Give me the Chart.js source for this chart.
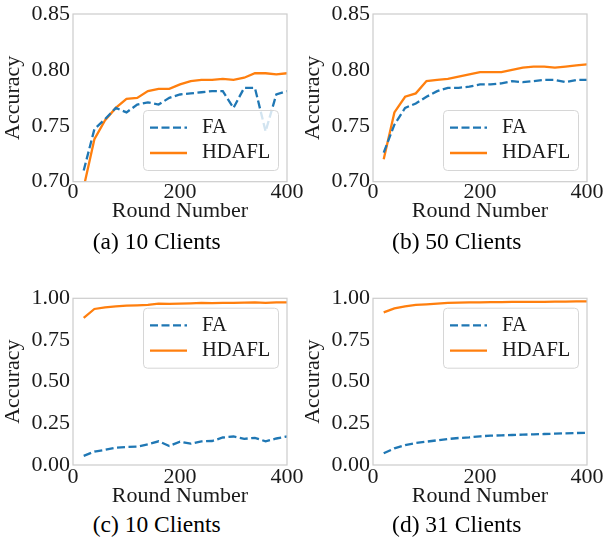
<!DOCTYPE html>
<html><head><meta charset="utf-8">
<script src="https://cdn.jsdelivr.net/npm/chart.js@4.4.1/dist/chart.umd.min.js"></script>
<style>
html,body{margin:0;padding:0;background:#fff;}
#wrap{position:relative;width:605px;height:541px;overflow:hidden;background:#fff;}
canvas{position:absolute;}
.cap{position:absolute;width:300px;text-align:center;font-family:"Liberation Serif",serif;font-size:23.5px;line-height:23.5px;color:#000;white-space:nowrap;}
</style></head><body>
<div id="wrap">
  <canvas id="cA" width="305" height="230" style="left:0;top:0"></canvas>
  <canvas id="cB" width="305" height="230" style="left:300px;top:0"></canvas>
  <canvas id="cC" width="305" height="240" style="left:0;top:270px"></canvas>
  <canvas id="cD" width="305" height="240" style="left:300px;top:270px"></canvas>
  <div class="cap" style="left:6.7px;top:229.6px">(a) 10 Clients</div>
  <div class="cap" style="left:306.7px;top:229.6px">(b) 50 Clients</div>
  <div class="cap" style="left:6.7px;top:513.4px">(c) 10 Clients</div>
  <div class="cap" style="left:306.7px;top:513.4px">(d) 31 Clients</div>
</div>
<script>
// ---- data ----
const rounds = [20,40,60,80,100,120,140,160,180,200,220,240,260,280,300,320,340,360,380,400];
const seriesNames = ['FA','HDAFL'];

const faA = [0.710,0.747,0.756,0.766,0.762,0.769,0.771,0.769,0.775,0.778,0.779,0.780,0.781,0.781,0.766,0.784,0.784,0.745,0.778,0.781];
const hdA = [0.695,0.738,0.755,0.766,0.774,0.775,0.781,0.783,0.783,0.787,0.790,0.791,0.791,0.792,0.791,0.793,0.797,0.797,0.796,0.797];

const faB = [0.726,0.751,0.766,0.770,0.776,0.781,0.784,0.784,0.785,0.787,0.787,0.788,0.790,0.789,0.790,0.791,0.791,0.789,0.791,0.791];
const hdB = [0.720,0.762,0.776,0.779,0.790,0.791,0.792,0.794,0.796,0.798,0.798,0.798,0.800,0.802,0.803,0.803,0.802,0.803,0.804,0.805];

const faC = [0.055,0.081,0.091,0.104,0.108,0.110,0.124,0.142,0.114,0.140,0.128,0.142,0.144,0.165,0.171,0.157,0.163,0.142,0.159,0.171];
const hdC = [0.882,0.936,0.946,0.952,0.956,0.958,0.960,0.968,0.967,0.968,0.970,0.972,0.971,0.973,0.972,0.974,0.975,0.972,0.976,0.976];

const faD = [0.070,0.100,0.120,0.132,0.140,0.148,0.156,0.162,0.166,0.172,0.176,0.178,0.180,0.182,0.184,0.186,0.188,0.190,0.192,0.193];
const hdD = [0.916,0.940,0.952,0.960,0.964,0.968,0.972,0.974,0.975,0.976,0.977,0.977,0.978,0.978,0.979,0.979,0.980,0.980,0.981,0.981];

const xTickValues = [0,200,400];
const yTicksTop = [0.70,0.75,0.80,0.85];
const yTicksBottom = [0.00,0.25,0.50,0.75,1.00];
const xTitle = 'Round Number';
const yTitle = 'Accuracy';

// ---- styling ----
const FONT = '"Liberation Serif", "Times New Roman", serif';
const TXT = '#1a1a1a';
const COLORS = ['#1f77b4','#ff7f0e'];

const framePlugin = {
  id:'frame',
  afterDatasetsDraw(chart, args, opts){
    const ctx = chart.ctx, a = chart.chartArea;
    ctx.save();
    ctx.strokeStyle = '#cccccc'; ctx.lineWidth = 1.2;
    ctx.strokeRect(a.left, a.top, a.right - a.left, a.bottom - a.top);
    const w = 135, h = 60;
    const x = a.right - 9 - w;
    const y = opts.pos === 'upper' ? a.top + 9.4 : a.bottom - 11.7 - h;
    ctx.beginPath();
    if (ctx.roundRect) ctx.roundRect(x + 0.5, y + 0.5, w, h, 4); else ctx.rect(x + 0.5, y + 0.5, w, h);
    ctx.fillStyle = 'rgba(255,255,255,0.8)'; ctx.fill();
    ctx.strokeStyle = '#d6d6d6'; ctx.lineWidth = 1; ctx.stroke();
    chart.data.datasets.forEach((ds, i) => {
      const ry = y + 17.7 + i * 25.3;
      ctx.beginPath();
      ctx.setLineDash(ds.borderDash || []);
      ctx.strokeStyle = ds.borderColor; ctx.lineWidth = ds.borderWidth;
      ctx.moveTo(x + 7, ry); ctx.lineTo(x + 44, ry); ctx.stroke();
      ctx.setLineDash([]);
      ctx.fillStyle = TXT; ctx.font = '20.5px ' + FONT;
      ctx.textBaseline = 'middle'; ctx.textAlign = 'left';
      ctx.fillText(ds.label, x + 59, ry);
    });
    ctx.restore();
  }
};

function makeChart(id, fa, hd, yTicks, o){
  const pts = arr => rounds.map((r, i) => ({x: r, y: arr[i]}));
  return new Chart(document.getElementById(id), {
    type: 'line',
    data: { datasets: [
      {label: seriesNames[0], data: pts(fa), borderColor: COLORS[0], borderDash: [8, 3.5], borderWidth: 2.3, pointRadius: 0, tension: 0, fill: false},
      {label: seriesNames[1], data: pts(hd), borderColor: COLORS[1], borderWidth: 2.3, pointRadius: 0, tension: 0, fill: false}
    ]},
    options: {
      responsive: false, animation: false, devicePixelRatio: 1,
      layout: {padding: {left: 0, top: o.padTop, right: 18, bottom: 0}},
      plugins: {legend: {display: false}, tooltip: {enabled: false}, frame: {pos: o.legend}},
      scales: {
        x: {
          type: 'linear', min: 0, max: 400,
          afterBuildTicks: s => { s.ticks = xTickValues.map(v => ({value: v})); },
          afterFit: s => { s.height = o.xH; },
          grid: {display: false, drawTicks: false}, border: {display: false},
          ticks: {padding: o.xTickPad, color: TXT, font: {family: FONT, size: 22, lineHeight: 1}, maxRotation: 0, autoSkip: false, callback: v => String(v)},
          title: {display: true, text: xTitle, color: TXT, font: {family: FONT, size: 22, lineHeight: 1}, padding: {top: 0, bottom: o.xTitlePad}}
        },
        y: {
          type: 'linear', min: yTicks[0], max: yTicks[yTicks.length - 1],
          afterBuildTicks: s => { s.ticks = yTicks.map(v => ({value: v})); },
          afterFit: s => { s.width = 73; },
          grid: {display: false, drawTicks: false}, border: {display: false},
          ticks: {padding: 3, color: TXT, font: {family: FONT, size: 22, lineHeight: 1}, autoSkip: false, callback: v => Number(v).toFixed(2)},
          title: {display: true, text: yTitle, color: TXT, font: {family: FONT, size: 22, lineHeight: 1}, padding: {top: 2, bottom: 0}}
        }
      }
    },
    plugins: [framePlugin]
  });
}

const topOpts = {padTop: 12.7, xH: 48.3, xTickPad: 0, xTitlePad: 8, legend: 'lower'};
const botOpts = {padTop: 28.3, xH: 45, xTickPad: 1.5, xTitlePad: 2.3, legend: 'upper'};
makeChart('cA', faA, hdA, yTicksTop, topOpts);
makeChart('cB', faB, hdB, yTicksTop, topOpts);
makeChart('cC', faC, hdC, yTicksBottom, botOpts);
makeChart('cD', faD, hdD, yTicksBottom, botOpts);
</script>
</body></html>
